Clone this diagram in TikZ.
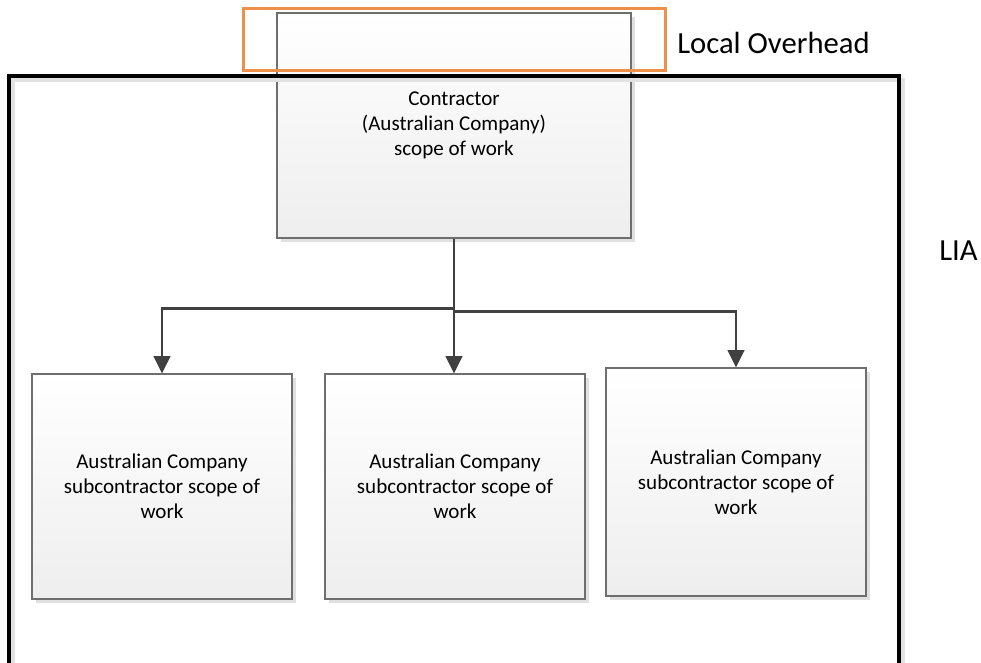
\documentclass[tikz,border=0pt]{standalone}
\usepackage{fontspec}
\setmainfont{Carlito}
\usetikzlibrary{arrows.meta,shadows,calc}

\definecolor{boxedge}{RGB}{110,110,110}
\definecolor{boxlow}{RGB}{238,238,238}
\definecolor{linkgray}{RGB}{64,64,64}
\definecolor{overhead}{RGB}{237,145,74}
\definecolor{framesh}{RGB}{226,226,226}

\begin{document}
\begin{tikzpicture}[x=0.75pt,y=-0.75pt,
  scopebox/.style={draw=boxedge, line width=0.9pt, top color=white,
    bottom color=boxlow, align=center, inner sep=0pt,
    font=\fontsize{15.8}{18.75}\selectfont,
    drop shadow={shadow xshift=3pt, shadow yshift=-3pt, fill=black!12, opacity=1}},
  subbox/.style={scopebox, minimum width=195pt, minimum height=168.75pt},
  link/.style={draw=linkgray, line width=2pt},
  tip/.style={-{Triangle[length=13pt,width=12.5pt]}},
  label/.style={anchor=base west, inner sep=0pt, font=\fontsize{23}{28}\selectfont}]

\clip (0,0) rectangle (981,662);

% main contractor box
\node[scopebox, minimum width=265.5pt, minimum height=168.75pt] (con) at (454,125.5)
  {Contractor\\(Australian Company)\\scope of work};

% LIA frame (bottom edge runs off the page)
\draw[framesh, line width=2.5pt] (13,80) rectangle (903,720);
\draw[black, line width=2.5pt] (9,76) rectangle (899,716);

% local overhead band
\draw[overhead, line width=2.25pt] (243,8) rectangle (665,70);

% subcontractor boxes
\node[subbox] (s1) at (162,486.5) {Australian Company\\subcontractor scope of\\work};
\node[subbox] (s2) at (455,486.5) {Australian Company\\subcontractor scope of\\work};
\node[subbox, minimum height=171pt] (s3) at (736,482) {Australian Company\\subcontractor scope of\\work};

% connectors
\coordinate (jl) at ($(con.south)+(0,70)$);
\coordinate (jr) at ($(con.south)+(0,73)$);
\draw[link, line width=2.2pt] (con.south) -- (jr);
\draw[link,tip] (jl) -| (s1.north);
\draw[link,tip, line width=1.6pt] (jr) -- (jr |- s2.north);
\draw[link,tip] (jr) -| (s3.north);

% labels
\node[label] (lo) at (677,53) {Local Overhead};
\node[label] (lia) at (939,260) {LIA};
\end{tikzpicture}
\end{document}
